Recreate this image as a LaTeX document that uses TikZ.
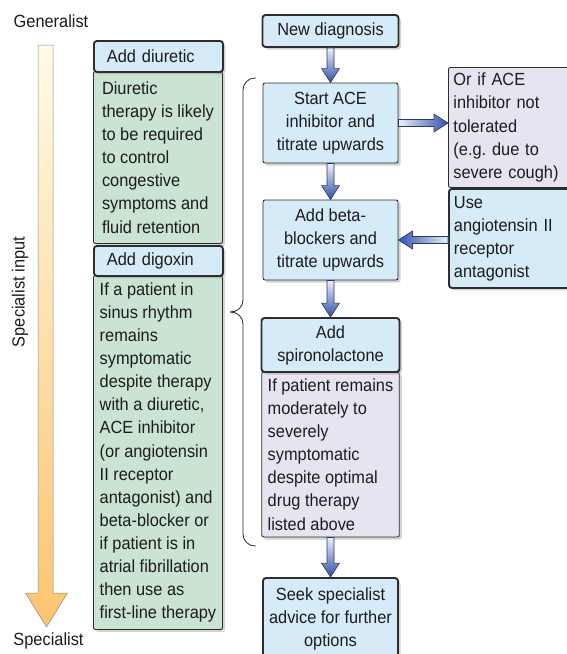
\documentclass[tikz,border=0pt]{standalone}
\usepackage{fontspec}
\setmainfont{Liberation Sans}[FakeStretch=0.93]
\usepackage{tikz}
\usetikzlibrary{calc,shadows}
\definecolor{softblue}{RGB}{213,235,248}
\definecolor{softgreen}{RGB}{202,227,210}
\definecolor{softlilac}{RGB}{231,228,241}
\definecolor{boxline}{RGB}{45,45,45}
\definecolor{inkgrey}{RGB}{30,27,28}
\definecolor{arrowlight}{RGB}{236,241,250}
\definecolor{arrowdark}{RGB}{50,80,165}
\definecolor{arrowline}{RGB}{40,55,110}
\definecolor{scalelight}{RGB}{255,251,230}
\definecolor{scaledark}{RGB}{252,196,112}
\tikzset{
  box/.style={
    draw=boxline,
    line width=0.9pt,
    rounded corners=2pt,
    inner xsep=6pt,
    inner ysep=0pt,
    align=left,
    text=inkgrey,
    font=\fontsize{17.6}{23.1}\selectfont\frenchspacing,
    drop shadow={shadow xshift=2.5pt, shadow yshift=-2.5pt, opacity=0.35}
  },
  thickbox/.style={line width=1.9pt, rounded corners=3pt},
  bluebox/.style={box, fill=softblue},
  greenbox/.style={box, fill=softgreen},
  lilacbox/.style={box, fill=softlilac},
  sidelabel/.style={text=inkgrey, font=\fontsize{17.6}{23.1}\selectfont},
  brace/.style={draw=black!85, line width=0.8pt, rounded corners=12pt},
  flowline/.style={draw=arrowline, line width=0.6pt, line join=miter},
  downflow/.style={flowline, top color=arrowlight, bottom color=arrowdark},
  rightflow/.style={flowline, left color=arrowlight, right color=arrowdark},
  leftflow/.style={flowline, right color=arrowlight, left color=arrowdark}
}

\begin{document}
\begin{tikzpicture}[x=1pt,y=-1pt]
\useasboundingbox (0,0) rectangle (566,654);

\node[sidelabel] (gen) at (51,21) {Generalist};
\node[sidelabel,rotate=90] (specin) at (20,292) {Specialist input};
\node[sidelabel] (spec) at (48.5,641) {Specialist};
\shade[top color=scalelight, bottom color=scaledark, draw=black!45, line width=0.5pt]
  (38,45) -- (53,45) -- (53,593) -- (67.5,593) -- (46.5,627) -- (25.5,593) -- (38,593) -- cycle;

\node[greenbox,anchor=north west,minimum width=129pt,minimum height=172pt] (diubody) at (93,71)
  {Diuretic\\therapy is likely\\to be required\\to control\\congestive\\symptoms and\\fluid retention};
\node[bluebox,thickbox,anchor=north west,inner xsep=13pt,text width=103pt,minimum height=31pt] (diuhead) at (93,40) {Add diuretic};
\node[greenbox,anchor=north west,minimum width=129pt,minimum height=354pt] (digbody) at (93,275)
  {If a patient in\\sinus rhythm\\remains\\symptomatic\\despite therapy\\with a diuretic,\\ACE inhibitor\\(or angiotensin\\II receptor\\antagonist) and\\beta-blocker or\\if patient is in\\atrial fibrillation\\then use as\\first-line therapy};
\node[bluebox,thickbox,anchor=north west,inner xsep=13pt,text width=103pt,minimum height=30pt] (dighead) at (93,245) {Add digoxin};

\node[bluebox,thickbox,align=center,minimum width=136pt,minimum height=32pt] (newdx) at (330.5,31) {New diagnosis};
\node[bluebox,align=center,minimum width=135pt,minimum height=80pt] (ace) at (330.5,123) {Start ACE\\inhibitor and\\titrate upwards};
\node[bluebox,align=center,minimum width=135pt,minimum height=80pt] (beta) at (330.5,240) {Add beta-\\blockers and\\titrate upwards};
\node[lilacbox,minimum width=136pt,minimum height=165pt] (spirobody) at (330.5,454.5)
  {If patient remains\\moderately to\\severely\\symptomatic\\despite optimal\\drug therapy\\listed above};
\node[bluebox,thickbox,align=center,minimum width=138pt,minimum height=54pt] (spiro) at (330.5,345) {Add\\spironolactone};
\node[bluebox,thickbox,align=center,minimum width=135pt,minimum height=82pt] (seek) at (330.5,619) {Seek specialist\\advice for further\\options};

\node[lilacbox,anchor=north west,inner xsep=5pt,text width=117pt,minimum height=120pt] (orace) at (448,67)
  {Or if ACE\\inhibitor not\\tolerated\\(e.g. due to\\severe cough)};
\node[bluebox,thickbox,anchor=north west,inner xsep=5pt,text width=117pt,minimum height=99pt] (arb) at (448,188)
  {Use\\angiotensin II\\receptor\\antagonist};

\coordinate (aceout) at (ace.east -| orace.west);
\coordinate (arbin) at (beta.east -| arb.west);
\foreach \from/\to/\look in {newdx.south/ace.north/downflow,ace.south/beta.north/downflow,
  beta.south/spiro.north/downflow,spirobody.south/seek.north/downflow,
  ace.east/aceout/rightflow,arbin/beta.east/leftflow}{
  \coordinate (head) at ($(\to)!14pt!(\from)$);
  \shade[\look] ($(\from)!3.5pt!90:(\to)$) -- ($(head)!3.5pt!90:(\to)$) -- ($(head)!9pt!90:(\to)$)
    -- (\to) -- ($(head)!9pt!-90:(\to)$) -- ($(head)!3.5pt!-90:(\to)$) -- ($(\from)!3.5pt!-90:(\to)$) -- cycle;
}

\coordinate (bracetop) at (256,78);
\coordinate (bracetip) at (230,312);
\coordinate (bracebot) at (256,546);
\draw[brace] (bracetop) -| (243,312) -- (bracetip);
\draw[brace] (bracetip) -| (243,546) -- (bracebot);
\end{tikzpicture}
\end{document}
